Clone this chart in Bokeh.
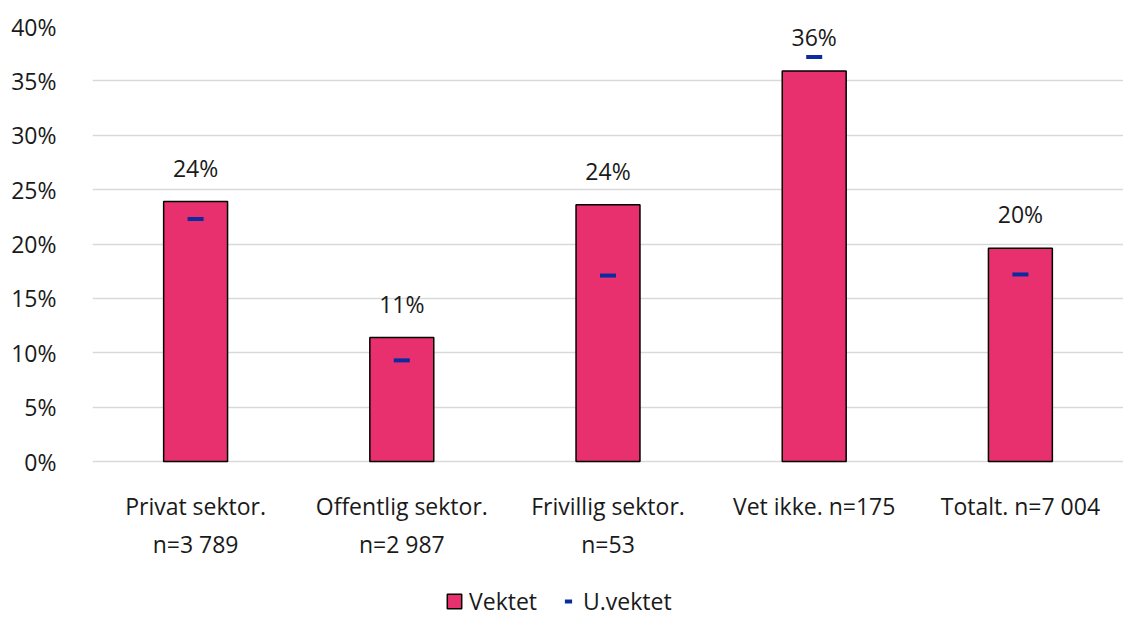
from bokeh.plotting import figure
from bokeh.models import (ColumnDataSource, NumeralTickFormatter, FixedTicker, Legend,
                          LegendItem, Range1d)
from bokeh.core.properties import value
from bokeh.embed import file_html
from bokeh.resources import INLINE

categories = ["Privat sektor.", "Offentlig sektor.", "Frivillig sektor.", "Vet ikke. n=175",
              "Totalt. n=7 004"]
label_line2 = ["n=3 789", "n=2 987", "n=53", "", ""]
vektet = [0.239, 0.114, 0.236, 0.359, 0.196]
uvektet = [0.223, 0.093, 0.171, 0.372, 0.172]
labels = ["24%", "11%", "24%", "36%", "20%"]
y_ticks = [0, 0.05, 0.1, 0.15, 0.2, 0.25, 0.3, 0.35, 0.4]

FONT = "Open Sans"
FS = "23px"
TXT = "#1a1a1a"
# layout constants (screen space below the zero line expressed in axis units)
Y_BOTTOM = -0.1434
LINE1_Y = -0.0405
LINE2_Y = -0.0754

src = ColumnDataSource(dict(cat=categories, v=vektet, u=uvektet, lab=labels, l2=label_line2))

p = figure(x_range=categories, y_range=Range1d(Y_BOTTOM, 0.4), frame_width=1031, frame_height=591,
           output_backend="svg", toolbar_location=None, min_border_left=92, min_border_right=0,
           min_border_top=26, min_border_bottom=0)
p.x_range.range_padding = 0
p.outline_line_color = None

r_bar = p.vbar(x="cat", top="v", width=0.31, source=src, fill_color="#E8306E",
               line_color="black", line_width=1.5)
r_dash = p.scatter(x="cat", y="u", source=src, marker="dash", size=16, line_width=4,
                   line_color="#0A2CA0", fill_color="#0A2CA0")
p.text(x="cat", y="v", text="lab", source=src, y_offset=-18, text_align="center",
       text_baseline="bottom", text_font=value(FONT), text_font_size=FS, text_color=TXT)

# category labels (two lines) under the zero line
p.text(x="cat", y=LINE1_Y, text="cat", source=src, text_align="center",
       text_baseline="middle", text_font=value(FONT), text_font_size=FS, text_color=TXT)
p.text(x="cat", y=LINE2_Y, text="l2", source=src, text_align="center",
       text_baseline="middle", text_font=value(FONT), text_font_size=FS, text_color=TXT)

p.xaxis.visible = False
ax = p.yaxis[0]
ax.axis_line_color = None
ax.major_tick_line_color = None
ax.minor_tick_line_color = None
ax.major_label_text_font = FONT
ax.major_label_text_font_size = FS
ax.major_label_text_color = TXT
ax.major_label_standoff = 30
ax.ticker = FixedTicker(ticks=y_ticks)
ax.formatter = NumeralTickFormatter(format="0%")
p.xgrid.grid_line_color = None
p.ygrid.grid_line_color = "#d9d9d9"
p.ygrid.grid_line_width = 1.5

legend = Legend(items=[LegendItem(label="Vektet", renderers=[r_bar]),
                       LegendItem(label="U.vektet", renderers=[r_dash])],
                orientation="horizontal", location=(353, 0), border_line_color=None,
                background_fill_alpha=0,
                label_text_font=FONT, label_text_font_size=FS, label_text_color=TXT,
                glyph_width=18, glyph_height=18, spacing=22, margin=0, padding=0,
                label_standoff=6)
p.add_layout(legend, "center")

open("out.html", "w").write(file_html(p, INLINE))
